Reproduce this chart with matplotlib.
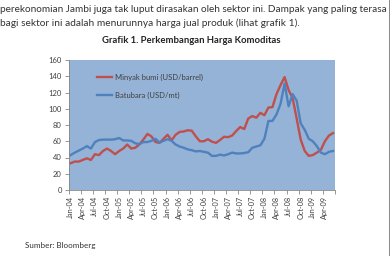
import numpy as np
import matplotlib
matplotlib.use("Agg")
from matplotlib import pyplot as plt
from matplotlib.lines import Line2D

# Monthly data, Jan-04 .. Jun-09
months = ["Jan", "Feb", "Mar", "Apr", "May", "Jun",
          "Jul", "Aug", "Sep", "Oct", "Nov", "Dec"]
periods = [f"{m}-{y:02d}" for y in range(4, 10) for m in months][:66]

minyak = [33, 35, 35, 37, 39, 37, 44, 43, 48, 51, 48, 44,
          48, 51, 56, 51, 52, 56, 62, 69, 66, 59, 58, 63,
          68, 61, 68, 71.5, 72, 73.5, 73, 66, 60, 60, 62.5, 59.5,
          58, 61.5, 65.5, 65, 67, 72.5, 77.5, 75, 88, 91, 89, 95,
          92, 101.5, 102, 118, 129, 139, 123, 113, 88, 62, 48, 42,
          43, 46, 49.5, 60, 67, 70]

batubara = [43, 46, 48.5, 51, 54, 51, 59, 61.5, 62, 62, 62, 62.5,
            64, 61, 61, 60.5, 57.5, 56.5, 59, 59, 60.5, 63, 58.5, 60.5,
            62.5, 60.5, 56, 53.5, 52, 50, 49, 47.5, 48, 47, 46, 42,
            42, 43.5, 42.5, 44, 46, 45, 45, 45.5, 46.5, 52, 53.5, 55,
            63, 85, 85, 93, 106, 131, 103, 118, 110, 82, 74, 63,
            60, 54, 46, 44, 47, 48]

labels_minyak = "Minyak bumi (USD/barrel)"
labels_batubara = "Batubara (USD/mt)"
yticks = [0, 20, 40, 60, 80, 100, 120, 140, 160]

plt.rcParams["font.family"] = ["Lato", "DejaVu Sans"]

fig = plt.figure(figsize=(3.91, 2.56), dpi=100)
ax = fig.add_axes([68.7 / 391, 1 - 190 / 256, (335 - 68.7) / 391, 130 / 256])

x = np.arange(len(periods))
ax.set_facecolor("#95b3d7")
ax.plot(x, minyak, color="#c0504d", lw=1.7, label=labels_minyak)
ax.plot(x, batubara, color="#4f81bd", lw=1.7, label=labels_batubara)

ax.set_xlim(-0.5, len(periods) - 0.5)
ax.set_ylim(0, 160)
ax.set_yticks(yticks)
ax.set_xticks(x[::3])
ax.set_xticklabels(periods[::3], rotation=90)
ax.set_xticks(np.arange(-0.5, len(periods), 3), minor=True)
ax.tick_params(axis="x", which="major", length=0, pad=4, labelsize=5.3,
               labelcolor="#404040")
ax.tick_params(axis="x", which="minor", length=3, color="#868686", width=0.6)
ax.tick_params(axis="y", length=3, color="#868686", width=0.6, pad=2,
               labelsize=5.5, labelcolor="#404040")
for s in ["top", "right"]:
    ax.spines[s].set_visible(False)
for s in ["left", "bottom"]:
    ax.spines[s].set_color("#868686")
    ax.spines[s].set_linewidth(0.6)

leg = ax.legend(loc="upper left", bbox_to_anchor=(0.106, 0.895), frameon=False,
                fontsize=5.5, handlelength=2.0, handletextpad=0.4,
                labelspacing=1.4, borderaxespad=0, borderpad=0)
for t in leg.get_texts():
    t.set_color("#404040")

# Document text around the chart
fig.text(0.0, 1 - 9 / 256, "perekonomian Jambi juga tak luput dirasakan oleh sektor ini. Dampak yang paling terasa",
         fontsize=7.2, va="center", ha="left", color="#333333")
fig.text(0.0, 1 - 23 / 256, "bagi sektor ini adalah menurunnya harga jual produk (lihat grafik 1).",
         fontsize=7.3, va="center", ha="left", color="#333333")
fig.text(191 / 391, 1 - 40.5 / 256, "Grafik 1. Perkembangan Harga Komoditas",
         fontsize=6.8, fontweight="bold", ha="center", va="center", color="#222222")
fig.text(25 / 391, 1 - 245.5 / 256, "Sumber: Bloomberg",
         fontsize=5.8, ha="left", va="center", color="#333333")

fig.add_artist(Line2D([389 / 391, 389 / 391], [0, 1], color="#777777", lw=0.6))

fig.savefig("out.png", dpi=100)
